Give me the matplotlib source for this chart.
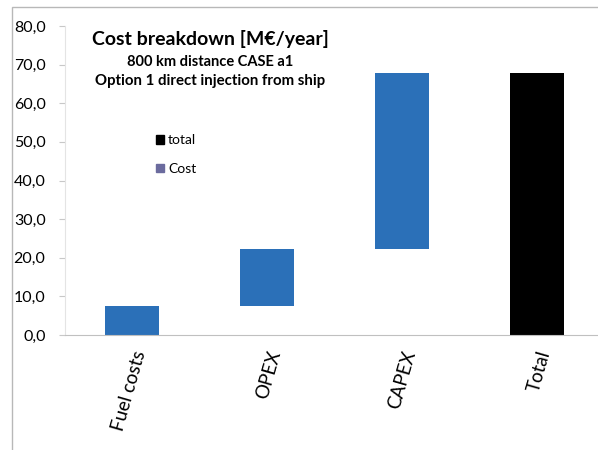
import numpy as np
import matplotlib.pyplot as plt
from matplotlib.patches import Patch, Rectangle

plt.rcParams['font.family'] = ['Lato', 'DejaVu Sans']

# cost items in M€/year
categories = ['Fuel costs', 'OPEX', 'CAPEX', 'Total']
steps = [7.5, 14.8, 45.5]
total = sum(steps)
yticks = [0, 10, 20, 30, 40, 50, 60, 70, 80]

blue = '#2b70b8'
bottoms = np.concatenate([[0], np.cumsum(steps)[:-1]])

fig = plt.figure(figsize=(5.98, 4.5), dpi=100)
# outer chart border
fig.patches.append(Rectangle((12 / 598, -0.1), 1.2, 1 - 7 / 450 + 0.1,
                             transform=fig.transFigure, fill=False,
                             edgecolor='#b8b8b8', lw=1.0))
ax = fig.add_axes([65 / 598, 1 - 335 / 450, 539 / 598, (335 - 26) / 450])

x = np.arange(len(categories))
ax.bar(x[:3], steps, bottom=bottoms, width=0.4, color=blue)
ax.bar(x[3], total, width=0.4, color='black')

ax.set_xlim(-0.5, 3.5)
ax.set_ylim(0, 80)
ax.set_yticks(yticks)
ax.set_yticklabels([f'{v:.1f}'.replace('.', ',') for v in yticks], fontsize=11.5)
ax.tick_params(axis='y', length=4, color='#c8c8c8', pad=10)
ax.set_xticks(x)
ax.set_xticklabels(categories, rotation=74, ha='right', rotation_mode='anchor',
                   fontsize=13.5)
ax.tick_params(axis='x', length=0, pad=10)

for s in ['top', 'right']:
    ax.spines[s].set_visible(False)
ax.spines['left'].set_color('#e4e4e4')
ax.spines['bottom'].set_color('#c0c0c0')

tx = (210 - 65) / 539
ax.text(tx, 0.957, 'Cost breakdown [M€/year]', transform=ax.transAxes,
        ha='center', va='center', fontsize=14, fontweight='bold')
ax.text(tx, 0.882, '800 km distance CASE a1', transform=ax.transAxes,
        ha='center', va='center', fontsize=10.5, fontweight='bold')
ax.text(tx, 0.823, 'Option 1 direct injection from ship', transform=ax.transAxes,
        ha='center', va='center', fontsize=10.8, fontweight='bold')

handles = [Patch(color='black', label='total'), Patch(color='#6b6b9e', label='Cost')]
ax.legend(handles=handles, loc='upper left', bbox_to_anchor=(0.145, 0.69),
          frameon=False, fontsize=10, handlelength=0.6, handleheight=0.6,
          handletextpad=0.3, labelspacing=1.2)

plt.savefig('out.png', dpi=100)
